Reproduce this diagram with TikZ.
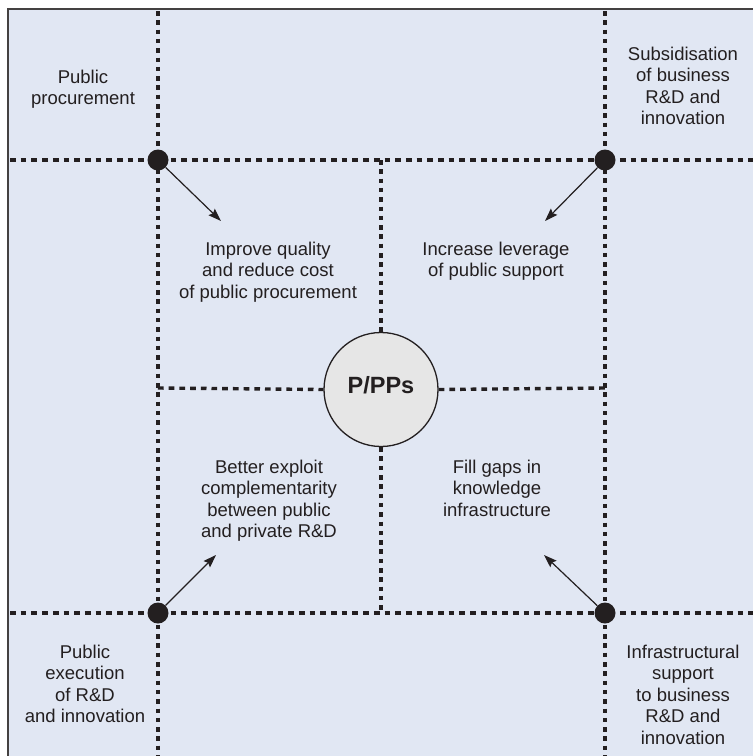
\documentclass[tikz,border=0pt]{standalone}
\usepackage{fontspec}
\setmainfont{Liberation Sans}
\usetikzlibrary{arrows.meta}
\definecolor{panel}{HTML}{E1E7F3}
\definecolor{ink}{HTML}{231F20}
\definecolor{hubfill}{HTML}{E6E6E6}
% centred block of lines whose baseline is the first line's baseline
\newcommand\textlines[1]{\begin{tabular}[t]{@{}c@{}}#1\end{tabular}}

\begin{document}
\begin{tikzpicture}[x=1pt,y=-1pt,
  txt/.style={anchor=base, inner sep=0pt, text=ink,
              font=\fontsize{18.5}{21.5}\selectfont},
  hgrid/.style={draw=ink, line width=3.4pt, dash pattern=on 5.7pt off 5pt},
  vgrid/.style={draw=ink, line width=3.4pt, dash pattern=on 4.5pt off 4.8pt},
  dot/.style={circle, fill=ink, inner sep=0pt, minimum size=21pt},
  link/.style={draw=ink, line width=1.2pt,
               -{Stealth[length=13pt,width=9pt,inset=2pt]}},
  hubnode/.style={circle, draw=ink, line width=1.3pt, fill=hubfill,
                  minimum size=114pt, inner sep=0pt, text=ink,
                  font=\bfseries\fontsize{23.5}{28}\selectfont,
                  text height=12pt, text depth=5pt},
]
\useasboundingbox (0,0) rectangle (753,756);
\fill[white] (0,0) rectangle (753,756);
\draw[draw=ink!85, line width=2pt, fill=panel] (8,9) rectangle (780,780);

% grid line end points
\coordinate (h1a) at (10,160);  \coordinate (h1b) at (753,160);
\coordinate (h2a) at (10,613);  \coordinate (h2b) at (753,613);
\coordinate (v1a) at (158,11);  \coordinate (v1b) at (158,756);
\coordinate (v2a) at (605,11);  \coordinate (v2b) at (605,756);
\coordinate (ct) at (381,160);  \coordinate (cb) at (381,613);
\coordinate (cl) at (158,388);  \coordinate (cr) at (605,388);

% centre hub
\node[hubnode] (hub) at (381,389.5) {P/PPs};

% main dashed grid
\draw[hgrid] (h1a) -- (h1b);
\draw[hgrid] (h2a) -- (h2b);
\draw[vgrid] (v1a) -- (v1b);
\draw[vgrid] (v2a) -- (v2b);

% inner dashed cross
\draw[vgrid] (ct) -- (hub.north);
\draw[vgrid] (hub.south) -- (cb);
\draw[hgrid] (cl) -- (hub.west);
\draw[hgrid] (hub.east) -- (cr);

% intersection dots
\node[dot] (tl) at (158,160) {};
\node[dot] (tr) at (605,160) {};
\node[dot] (bl) at (158,613) {};
\node[dot] (br) at (605,613) {};

% arrow tips
\coordinate (a1) at (221,221);
\coordinate (a2) at (545,221);
\coordinate (a3) at (216,555);
\coordinate (a4) at (544,555);
\draw[link] (tl) -- (a1);
\draw[link] (tr) -- (a2);
\draw[link] (bl) -- (a3);
\draw[link] (br) -- (a4);

% corner labels
\node[txt] (pp) at (83,83) {\textlines{Public\\procurement}};
\node[txt] (sub) at (683,60) {\textlines{Subsidisation\\of business\\R\&D and\\innovation}};
\node[txt] (pe) at (85,658) {\textlines{Public\\execution\\of R\&D\\and innovation}};
\node[txt] (inf) at (683,658) {\textlines{Infrastructural\\support\\to business\\R\&D and\\innovation}};

% quadrant labels
\node[txt] (q1) at (268,255) {\textlines{Improve quality\\and reduce cost\\of public procurement}};
\node[txt] (q2) at (496,255) {\textlines{Increase leverage\\of public support}};
\node[txt] (q3) at (269,473) {\textlines{Better exploit\\complementarity\\between public\\and private R\&D}};
\node[txt] (q4) at (497,473) {\textlines{Fill gaps in\\knowledge\\infrastructure}};
\end{tikzpicture}
\end{document}
